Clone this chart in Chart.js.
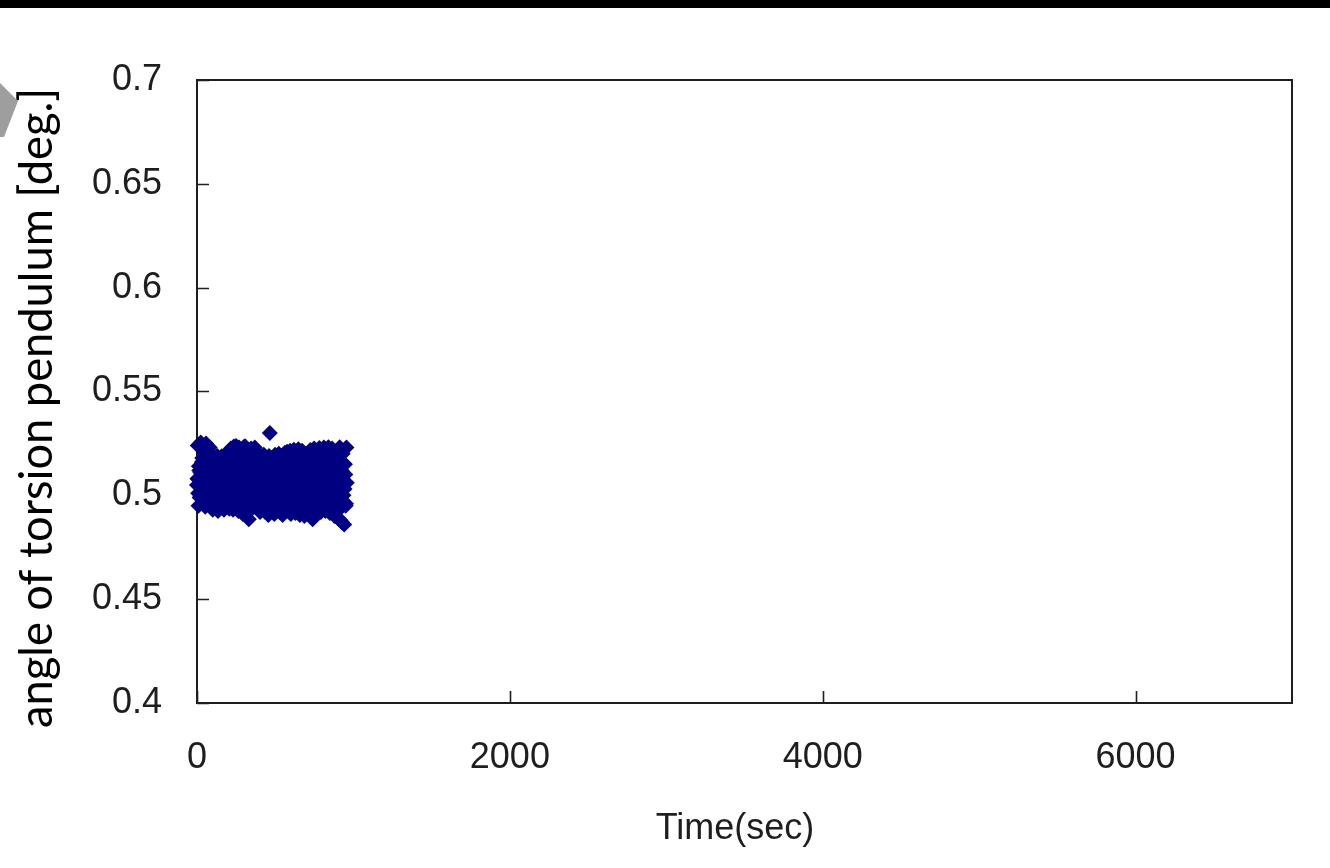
<!DOCTYPE html>
<html>
<head>
<meta charset="utf-8">
<script src="https://cdn.jsdelivr.net/npm/chart.js@4"></script>
<style>
  html, body { margin: 0; padding: 0; background: #ffffff; }
  #wrap { position: relative; width: 1330px; height: 868px; overflow: hidden; background: #ffffff; }
  #topbar { position: absolute; left: 0; top: 0; width: 1330px; height: 8px; background: #000000; z-index: 2; }
  #tab { position: absolute; left: 0; top: 81px; width: 20px; height: 60px; z-index: 2; }
  canvas { position: absolute; left: 0; top: 0; }
</style>
</head>
<body>
<div id="wrap">
  <div id="topbar"></div>
  <svg id="tab" width="20" height="60" viewBox="0 0 20 60"><polygon points="0,2 18,20 4,56 0,56" fill="#9e9e9e"/></svg>
  <canvas id="c" width="1330" height="868"></canvas>
</div>
<script>
// ---- data ----
const xAxisTitle = 'Time(sec)';
const yAxisTitle = 'angle of torsion pendulum [deg.]';
const xTickValues = [0, 2000, 4000, 6000];
const xTickLabels = ['0', '2000', '4000', '6000'];
const yTickValues = [0.4, 0.45, 0.5, 0.55, 0.6, 0.65, 0.7];
const yTickLabels = ['0.4', '0.45', '0.5', '0.55', '0.6', '0.65', '0.7'];
const xMin = 0, xMax = 7000, yMin = 0.4, yMax = 0.7;
const sampleStartSec = 0;
const sampleIntervalSec = 4.8;   // sampling interval of the recorded angle
// samples at t = 0, 4.8, 9.6, ...
const angleValues = [
  0.5050, 0.5240, 0.4950, 0.5120, 0.4990, 0.5255, 0.5030, 0.5180, 0.4960, 0.5100,
  0.5200, 0.4945, 0.5250, 0.5060, 0.4980, 0.5160, 0.5010, 0.5230, 0.4950, 0.5090,
  0.5150, 0.4930, 0.5185, 0.5040, 0.4975, 0.5120, 0.5000, 0.5190, 0.4925, 0.5080,
  0.5170, 0.4940, 0.5060, 0.5188, 0.4990, 0.5110, 0.4930, 0.5150, 0.5020, 0.5192,
  0.4960, 0.5100, 0.5210, 0.4935, 0.5050, 0.5225, 0.4990, 0.5140, 0.4930, 0.5235,
  0.5060, 0.4950, 0.5238, 0.5000, 0.5160, 0.4925, 0.5230, 0.5080, 0.4960, 0.5200,
  0.5040, 0.4910, 0.5232, 0.5110, 0.5236, 0.5020, 0.5200, 0.4930, 0.5150, 0.4885,
  0.4970, 0.5090, 0.5225, 0.4935, 0.5060, 0.5180, 0.4980, 0.5230, 0.5010, 0.4940,
  0.5150, 0.5200, 0.4950, 0.5080, 0.4920, 0.5190, 0.5030, 0.5170, 0.4960, 0.5195,
  0.5020, 0.4920, 0.5180, 0.5010, 0.5060, 0.4905, 0.5190, 0.5300, 0.5140, 0.4930,
  0.5180, 0.4960, 0.5090, 0.4910, 0.5195, 0.5030, 0.4940, 0.5150, 0.5060, 0.5200,
  0.4920, 0.5110, 0.5190, 0.4980, 0.4905, 0.5160, 0.5040, 0.5205, 0.4950, 0.5080,
  0.5210, 0.4930, 0.5120, 0.5000, 0.5215, 0.4910, 0.5170, 0.5050, 0.4960, 0.5220,
  0.5030, 0.4915, 0.5190, 0.5100, 0.4950, 0.5222, 0.5010, 0.4905, 0.5160, 0.5070,
  0.5215, 0.4940, 0.5120, 0.4900, 0.5200, 0.5040, 0.4930, 0.5180, 0.4920, 0.4930,
  0.5090, 0.5218, 0.4950, 0.5150, 0.4885, 0.5030, 0.5225, 0.4960, 0.5110, 0.4925,
  0.5200, 0.5050, 0.4940, 0.5228, 0.5000, 0.4920, 0.5170, 0.5080, 0.4950, 0.5230,
  0.5020, 0.4925, 0.5190, 0.5110, 0.4960, 0.5232, 0.5040, 0.4915, 0.5160, 0.5070,
  0.5225, 0.4940, 0.5100, 0.4900, 0.5210, 0.5030, 0.4920, 0.5180, 0.4890, 0.5130,
  0.5232, 0.4880, 0.5060, 0.4870, 0.5200, 0.5000, 0.4860, 0.5150, 0.4950, 0.5230
];
// interleaved samples at t = 2.4, 7.2, 12.0, ...
const angleValuesB = [
  0.5080, 0.5010, 0.5140, 0.4990, 0.5110, 0.5050, 0.5160, 0.5020, 0.5100, 0.4980,
  0.5130, 0.5040, 0.4990, 0.5170, 0.5060, 0.5000, 0.5120, 0.5030, 0.5150, 0.5070,
  0.5010, 0.5110, 0.5060, 0.4980, 0.5140, 0.5030, 0.5090, 0.5160, 0.5000, 0.5120,
  0.5050, 0.5150, 0.4990, 0.5080, 0.5130, 0.5020, 0.5170, 0.5040, 0.5100, 0.4985,
  0.5120, 0.5000, 0.5160, 0.5070, 0.4990, 0.5140, 0.5030, 0.5110, 0.5060, 0.5180,
  0.5020, 0.5130, 0.5080, 0.4980, 0.5170, 0.5050, 0.5010, 0.5150, 0.5090, 0.5040,
  0.5140, 0.4990, 0.5100, 0.5060, 0.5160, 0.5020, 0.5120, 0.4980, 0.5080, 0.5170,
  0.5000, 0.5110, 0.5050, 0.5150, 0.4990, 0.5130, 0.5070, 0.5020, 0.5160, 0.5040,
  0.5090, 0.5170, 0.5010, 0.5120, 0.5040, 0.4980, 0.5140, 0.5060, 0.5110, 0.5000,
  0.5150, 0.5030, 0.5100, 0.4990, 0.5160, 0.5070, 0.5010, 0.5130, 0.5050, 0.5120,
  0.5040, 0.5140, 0.4980, 0.5090, 0.5170, 0.5020, 0.5110, 0.5060, 0.4990, 0.5150,
  0.5100, 0.5010, 0.5160, 0.5050, 0.5120, 0.4990, 0.5080, 0.5140, 0.5030, 0.5070,
  0.4990, 0.5130, 0.5060, 0.5170, 0.5010, 0.5100, 0.5040, 0.5150, 0.4980, 0.5120,
  0.5160, 0.5050, 0.5000, 0.5110, 0.5070, 0.5140, 0.4990, 0.5090, 0.5130, 0.5020,
  0.5070, 0.4990, 0.5150, 0.5030, 0.5120, 0.5060, 0.5170, 0.5000, 0.5100, 0.5040,
  0.5120, 0.5060, 0.4980, 0.5140, 0.5020, 0.5100, 0.5050, 0.5160, 0.5010, 0.5080,
  0.5030, 0.5150, 0.5090, 0.5000, 0.5130, 0.5040, 0.5170, 0.5070, 0.4990, 0.5110,
  0.5140, 0.5020, 0.5080, 0.5160, 0.4990, 0.5120, 0.5050, 0.5010, 0.5150, 0.5060,
  0.5000, 0.5110, 0.5170, 0.5040, 0.5090, 0.4980, 0.5130, 0.5070, 0.5020, 0.5140,
  0.5090, 0.5010, 0.5120, 0.5050, 0.4970, 0.5150, 0.5030, 0.5100, 0.4960, 0.5060
];
// ------------------------------------

const pointsA = angleValues.map((v, i) => ({ x: sampleStartSec + i * sampleIntervalSec, y: v }));
const pointsB = angleValuesB.map((v, i) => ({ x: sampleStartSec + (i + 0.5) * sampleIntervalSec, y: v }));

const tickFont = { family: '"Liberation Sans", Arial, sans-serif', size: 36 };
const inkColor = '#1e1e1e';
const markerColor = '#000080';

const framePlugin = {
  id: 'frame',
  beforeDatasetsDraw(chart) {
    const { ctx, chartArea: a, scales } = chart;
    ctx.save();
    ctx.strokeStyle = inkColor;
    ctx.lineWidth = 2;
    ctx.strokeRect(a.left, a.top, a.right - a.left, a.bottom - a.top);
    ctx.lineWidth = 1.6;
    ctx.beginPath();
    scales.y.ticks.forEach(t => {
      const py = Math.round(scales.y.getPixelForValue(t.value)) + 0.5;
      ctx.moveTo(a.left, py); ctx.lineTo(a.left + 12, py);
    });
    scales.x.ticks.forEach(t => {
      const px = Math.round(scales.x.getPixelForValue(t.value)) + 0.5;
      ctx.moveTo(px, a.bottom); ctx.lineTo(px, a.bottom - 12);
    });
    ctx.stroke();
    ctx.restore();
  },
  afterDraw(chart) {
    const { ctx } = chart;
    ctx.save();
    ctx.fillStyle = inkColor;
    ctx.font = '36px "Liberation Sans", Arial, sans-serif';
    ctx.textAlign = 'center';
    ctx.textBaseline = 'alphabetic';
    ctx.fillText(xAxisTitle, 735, 839);
    ctx.font = '46px Lato, "Open Sans", sans-serif';
    ctx.fillStyle = '#000000';
    const w = ctx.measureText(yAxisTitle).width;
    ctx.translate(52, 408);
    ctx.rotate(-Math.PI / 2);
    ctx.scale(640 / w, 1);
    ctx.fillText(yAxisTitle, 0, 0);
    ctx.restore();
  }
};

const markerStyle = {
  pointStyle: 'rectRot',
  pointRadius: 8,
  pointHoverRadius: 8,
  pointBorderWidth: 0,
  backgroundColor: markerColor,
  borderColor: markerColor,
  clip: false
};

new Chart(document.getElementById('c'), {
  type: 'scatter',
  data: {
    datasets: [
      Object.assign({ label: 'angle', data: pointsA }, markerStyle),
      Object.assign({ label: 'angle (interleaved)', data: pointsB }, markerStyle)
    ]
  },
  options: {
    responsive: false,
    animation: false,
    events: [],
    layout: { padding: { top: 80, right: 38, left: 0, bottom: 0 } },
    plugins: { legend: { display: false }, tooltip: { enabled: false } },
    scales: {
      x: {
        type: 'linear',
        min: xMin, max: xMax,
        grid: { display: false, drawTicks: false },
        border: { display: false },
        afterFit(s) { s.height = 165; },
        afterBuildTicks(s) { s.ticks = xTickValues.map(v => ({ value: v })); },
        ticks: {
          font: tickFont, color: inkColor, padding: 33, maxRotation: 0,
          callback: (v, i) => xTickLabels[i]
        }
      },
      y: {
        type: 'linear',
        min: yMin, max: yMax,
        grid: { display: false, drawTicks: false },
        border: { display: false },
        afterFit(s) { s.width = 197; },
        afterBuildTicks(s) { s.ticks = yTickValues.map(v => ({ value: v })); },
        ticks: {
          font: tickFont, color: inkColor, padding: 35,
          callback: (v, i) => yTickLabels[i]
        }
      }
    }
  },
  plugins: [framePlugin]
});
</script>
</body>
</html>
